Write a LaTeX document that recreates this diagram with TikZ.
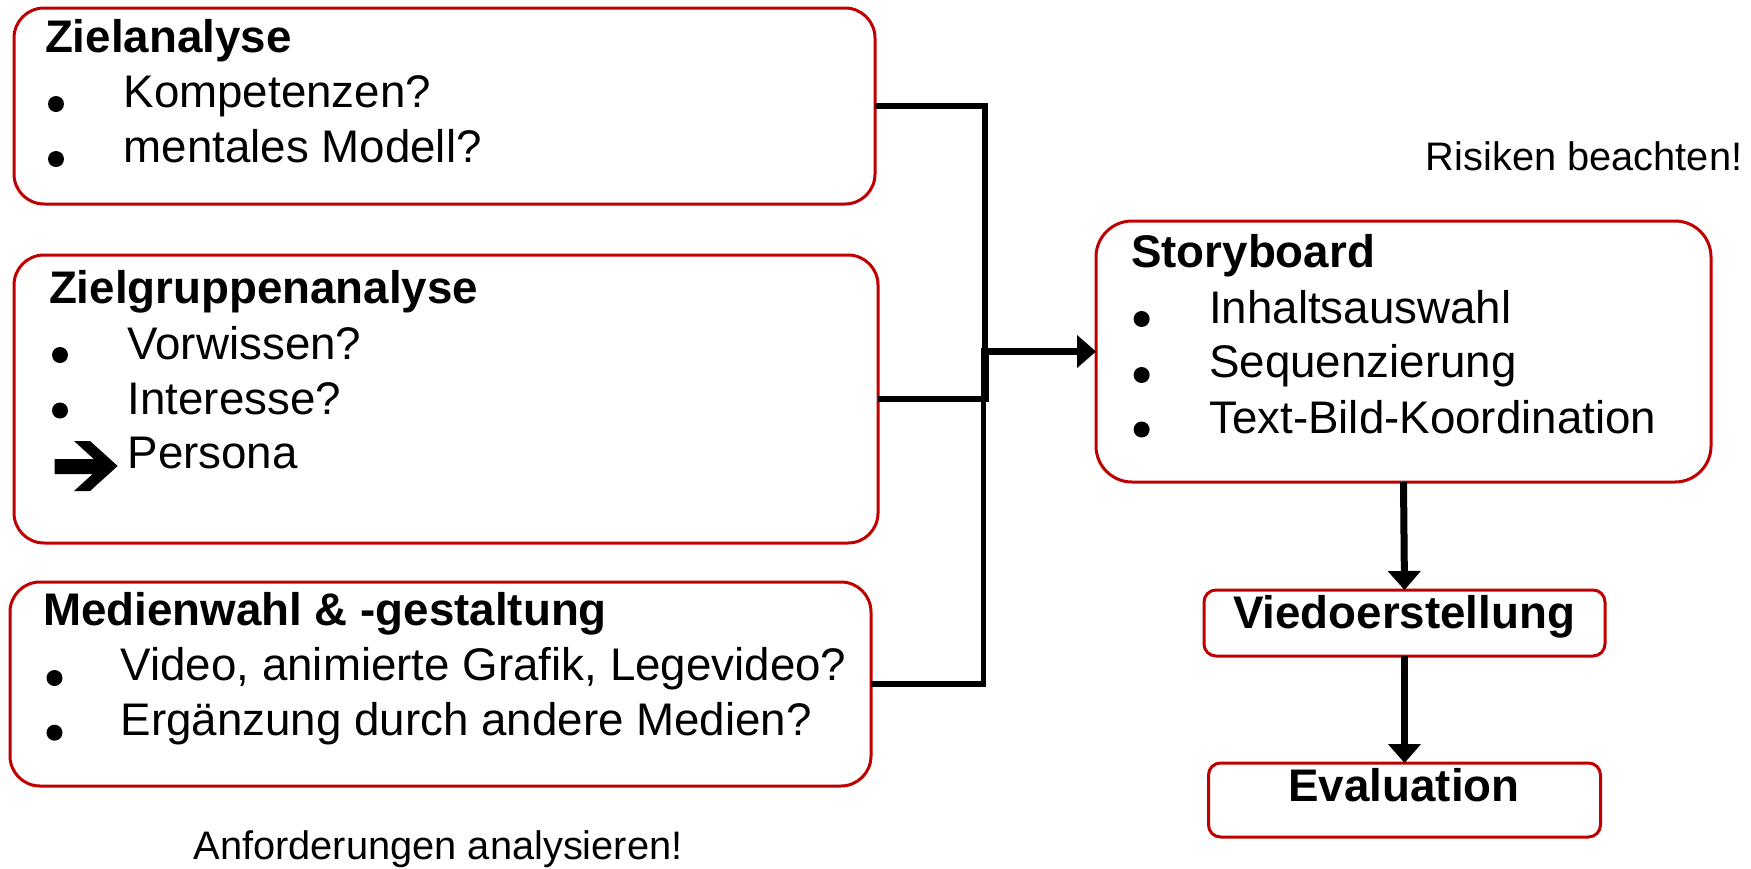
\documentclass[tikz,border=0pt]{standalone}
\usepackage{fontspec}
\setmainfont{Liberation Sans}
\usetikzlibrary{arrows.meta}
\definecolor{boxred}{HTML}{C00000}
\tikzset{
  box/.style={draw=boxred, line width=3pt, inner sep=0pt, outer sep=0pt, fill=white, anchor=north west},
  txt/.style={anchor=base west, inner sep=0pt, font=\fontsize{45.7}{55}\selectfont},
  ttl/.style={anchor=base west, inner sep=0pt, font=\fontsize{45.7}{55}\selectfont\bfseries},
  note/.style={anchor=base west, inner sep=0pt, font=\fontsize{39.8}{48}\selectfont},
  dot/.style={circle, fill=black, inner sep=0pt, minimum size=16pt},
  conn/.style={line width=5.5pt},
  arr/.style={line width=7pt, -{Triangle[length=19pt,width=32pt]}},
}
\begin{document}
\begin{tikzpicture}[x=1pt,y=-1pt]
\useasboundingbox (0,0) rectangle (1751,868);

% boxes
\node[box, rounded corners=30pt, minimum width=861pt, minimum height=196pt] (z1) at (14,8) {};
\node[box, rounded corners=30pt, minimum width=864pt, minimum height=288pt] (z2) at (14,255) {};
\node[box, rounded corners=30pt, minimum width=861pt, minimum height=204pt] (z3) at (10,582) {};
\node[box, rounded corners=36pt, minimum width=615pt, minimum height=261pt] (sb) at (1096,221) {};
\node[box, rounded corners=12pt, minimum width=401pt, minimum height=66pt] (vid) at (1204,590) {};
\node[box, rounded corners=12pt, minimum width=392pt, minimum height=74pt] (ev) at (1208.5,763) {};

% Zielanalyse
\node[ttl] (z1t) at (44.8,52.9) {Zielanalyse};
\node[dot] (z1b1) at (56,104) {};
\node[txt] (z1i1) at (123.4,107) {Kompetenzen?};
\node[dot] (z1b2) at (56,159) {};
\node[txt] (z1i2) at (123.4,162.5) {mentales Modell?};

% Zielgruppenanalyse
\node[ttl] (z2t) at (48.8,303.5) {Zielgruppenanalyse};
\node[dot] (z2b1) at (60,355) {};
\node[txt] (z2i1) at (127.4,359) {Vorwissen?};
\node[dot] (z2b2) at (60,410.5) {};
\node[txt] (z2i2) at (127.4,414) {Interesse?};
\fill (54.5,459) -- (93.8,459) -- (74,441) -- (90,441) -- (117.7,466) -- (90,491) -- (74,491) -- (92.7,474) -- (54.5,474) -- cycle;
\node[txt] (z2i3) at (127.4,468.5) {Persona};

% Medienwahl
\node[ttl] (z3t) at (43,625) {Medienwahl \& -gestaltung};
\node[dot] (z3b1) at (54.5,678) {};
\node[txt] (z3i1) at (120.5,680.7) {Video, animierte Grafik, Legevideo?};
\node[dot] (z3b2) at (54.5,732.7) {};
\node[txt] (z3i2) at (120.5,735) {Ergänzung durch andere Medien?};

\node[note] (anf) at (193.4,859) {Anforderungen analysieren!};

% Storyboard
\node[ttl] (sbt) at (1131,267) {Storyboard};
\node[dot] (sbb1) at (1141.6,319) {};
\node[txt] (sbi1) at (1209,323) {Inhaltsauswahl};
\node[dot] (sbb2) at (1141.6,375) {};
\node[txt] (sbi2) at (1209,377.7) {Sequenzierung};
\node[dot] (sbb3) at (1141.6,429.5) {};
\node[txt] (sbi3) at (1209,433) {Text-Bild-Koordination};

\node[note] (ris) at (1425.7,170.6) {Risiken beachten!};

\node[ttl, anchor=base] (vidt) at (1404,628) {Viedoerstellung};
\node[ttl, anchor=base] (evt) at (1404,801.7) {Evaluation};

% connectors
\coordinate (j1) at (985,351.5);
\coordinate (j2) at (986.6,351.5);
\coordinate (j3) at (983.7,351.5);
\coordinate (j) at (981,351.5);
\draw[conn] (z1.east) -| (j1);
\draw[conn] (z2.east) -| (j2);
\draw[conn] (z3.east) -| (j3);
\draw[arr] (j) -- (sb.west);
\draw[arr] (sb.south) -- (vid.north);
\draw[arr] (vid.south) -- (ev.north);
\end{tikzpicture}
\end{document}
